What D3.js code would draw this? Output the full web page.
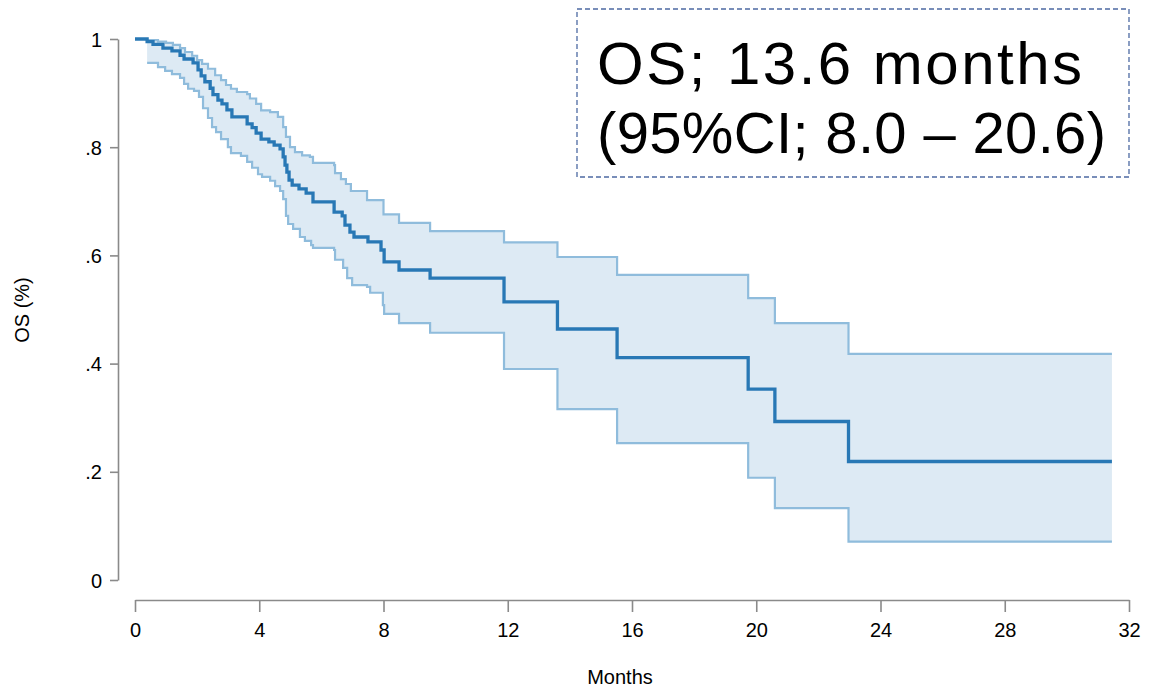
<!DOCTYPE html>
<html>
<head>
<meta charset="utf-8">
<script src="https://cdn.jsdelivr.net/npm/d3@7"></script>
<style>
  html, body { margin: 0; padding: 0; background: #fff; }
  svg { display: block; }
</style>
</head>
<body>
<svg id="chart" width="1153" height="693"></svg>
<script>
// ---- Data (months, survival proportion) ----
const survival = [
  [0, 1.000], [0.39, 0.995], [0.58, 0.990], [0.90, 0.983], [1.19, 0.978],
  [1.45, 0.970], [1.58, 0.963], [1.87, 0.956], [2.03, 0.943], [2.13, 0.932],
  [2.25, 0.921], [2.42, 0.909], [2.51, 0.897], [2.67, 0.887], [2.80, 0.880],
  [2.96, 0.869], [3.12, 0.856], [3.61, 0.843], [3.77, 0.836], [3.90, 0.826],
  [4.06, 0.815], [4.31, 0.810], [4.48, 0.804], [4.67, 0.797], [4.77, 0.782],
  [4.83, 0.767], [4.89, 0.754], [4.96, 0.739], [5.06, 0.730], [5.28, 0.723],
  [5.51, 0.715], [5.73, 0.699], [6.41, 0.680], [6.67, 0.673], [6.76, 0.656],
  [6.92, 0.643], [7.05, 0.634], [7.50, 0.625], [7.92, 0.610], [8.02, 0.588],
  [8.50, 0.573], [9.50, 0.558], [11.88, 0.514], [13.6, 0.464], [15.52, 0.411],
  [19.74, 0.353], [20.6, 0.293], [22.97, 0.219]
];
const upperCI = [
  [0.39, 0.998], [0.74, 0.995], [1.00, 0.993], [1.22, 0.989], [1.45, 0.983],
  [1.61, 0.976], [1.84, 0.969], [2.00, 0.961], [2.16, 0.954], [2.35, 0.945],
  [2.58, 0.933], [2.77, 0.924], [2.93, 0.915], [3.09, 0.908], [3.28, 0.902],
  [3.61, 0.898], [3.70, 0.890], [3.90, 0.880], [4.06, 0.868], [4.35, 0.865],
  [4.60, 0.856], [4.77, 0.837], [4.86, 0.819], [4.99, 0.800], [5.15, 0.791],
  [5.38, 0.785], [5.63, 0.782], [5.73, 0.771], [6.41, 0.767], [6.44, 0.752],
  [6.63, 0.741], [6.79, 0.732], [6.95, 0.719], [7.47, 0.702], [8.00, 0.676],
  [8.50, 0.660], [9.50, 0.645], [11.88, 0.624], [13.6, 0.597], [15.52, 0.564],
  [19.74, 0.521], [20.6, 0.475], [22.97, 0.418]
];
const lowerCI = [
  [0.39, 0.956], [0.74, 0.948], [0.97, 0.941], [1.19, 0.935], [1.45, 0.928],
  [1.58, 0.917], [1.71, 0.908], [1.90, 0.904], [2.06, 0.893], [2.19, 0.872],
  [2.35, 0.854], [2.48, 0.837], [2.61, 0.828], [2.77, 0.815], [2.99, 0.800],
  [3.09, 0.789], [3.41, 0.784], [3.61, 0.773], [3.77, 0.762], [3.96, 0.750],
  [4.09, 0.745], [4.35, 0.738], [4.51, 0.728], [4.67, 0.719], [4.77, 0.704],
  [4.86, 0.673], [4.93, 0.658], [5.09, 0.649], [5.31, 0.634], [5.47, 0.627],
  [5.67, 0.619], [5.73, 0.614], [6.41, 0.610], [6.44, 0.592], [6.70, 0.577],
  [6.83, 0.558], [6.99, 0.545], [7.47, 0.542], [7.57, 0.531], [7.98, 0.508],
  [8.02, 0.492], [8.50, 0.475], [9.50, 0.457], [11.88, 0.390], [13.6, 0.316],
  [15.52, 0.253], [19.74, 0.189], [20.6, 0.133], [22.97, 0.071]
];
const followUpEnd = 31.45;
const xTicks = [0, 4, 8, 12, 16, 20, 24, 28, 32];
const yTicks = [0, 0.2, 0.4, 0.6, 0.8, 1];
const yTickLabels = ["0", ".2", ".4", ".6", ".8", "1"];
const xTitle = "Months";
const yTitle = "OS (%)";
const annotationLines = ["OS; 13.6 months", "(95%CI; 8.0 \u2013 20.6)"];

// ---- Layout ----
const svg = d3.select("#chart");
const x = d3.scaleLinear().domain([0, 32]).range([135, 1129]);
const y = d3.scaleLinear().domain([0, 1]).range([580, 39]);
const axisColor = "#8a8a8a";
const mainColor = "#2878b5";
const ciColor = "#8fbcdc";
const fillColor = "#ddeaf4";
const axisFont = "'Liberation Sans', Arial, sans-serif";

// step helper
function stepValue(arr, t) {
  let v = arr[0][1];
  for (const [tt, s] of arr) { if (tt <= t) v = s; else break; }
  return v;
}
const bandTimes = Array.from(new Set(
  upperCI.map(d => d[0]).concat(lowerCI.map(d => d[0])).concat([followUpEnd])
)).sort((a, b) => a - b);
const band = bandTimes.map(t => ({ t, lo: stepValue(lowerCI, t), hi: stepValue(upperCI, t) }));

svg.append("path")
  .datum(band)
  .attr("fill", fillColor)
  .attr("d", d3.area().curve(d3.curveStepAfter)
    .x(d => x(d.t)).y0(d => y(d.lo)).y1(d => y(d.hi)));

const stepLine = d3.line().curve(d3.curveStepAfter).x(d => x(d[0])).y(d => y(d[1]));
const withEnd = arr => arr.concat([[followUpEnd, arr[arr.length - 1][1]]]);

svg.append("path").datum(withEnd(upperCI))
  .attr("fill", "none").attr("stroke", ciColor).attr("stroke-width", 2.2).attr("d", stepLine);
svg.append("path").datum(withEnd(lowerCI))
  .attr("fill", "none").attr("stroke", ciColor).attr("stroke-width", 2.2).attr("d", stepLine);
svg.append("path").datum(withEnd(survival))
  .attr("fill", "none").attr("stroke", mainColor).attr("stroke-width", 3.3).attr("d", stepLine);

// ---- Axes ----
const yAxis = svg.append("g").attr("transform", "translate(118,0)")
  .call(d3.axisLeft(y).tickValues(yTicks).tickSize(8).tickSizeOuter(0)
    .tickFormat((d, i) => yTickLabels[i]));
const xAxis = svg.append("g").attr("transform", "translate(0,600)")
  .call(d3.axisBottom(x).tickValues(xTicks).tickSize(12).tickSizeOuter(0));

[yAxis, xAxis].forEach(g => {
  g.attr("font-family", axisFont).attr("font-size", 20);
  g.select(".domain").attr("stroke", axisColor).attr("stroke-width", 1.6);
  g.selectAll(".tick line").attr("stroke", axisColor).attr("stroke-width", 1.6);
  g.selectAll(".tick text").attr("fill", "#000");
});
yAxis.selectAll(".tick text").attr("x", -16).attr("dy", "0.35em");
xAxis.selectAll(".tick text").attr("y", 23);

svg.append("text")
  .attr("x", 620).attr("y", 684)
  .attr("text-anchor", "middle")
  .attr("font-family", axisFont).attr("font-size", 20)
  .text(xTitle);
svg.append("text")
  .attr("transform", "translate(29,310) rotate(-90)")
  .attr("text-anchor", "middle")
  .attr("font-family", axisFont).attr("font-size", 20)
  .text(yTitle);

// ---- Annotation box ----
svg.append("rect")
  .attr("x", 577).attr("y", 9).attr("width", 552).attr("height", 168)
  .attr("fill", "#fff").attr("stroke", "#4d6aa3").attr("stroke-width", 1.3)
  .attr("stroke-dasharray", "5,3");
const annotWidths = [485, 509];
const annotSizes = [60, 58];
svg.selectAll(".annot").data(annotationLines).enter().append("text")
  .attr("class", "annot")
  .attr("x", 597).attr("y", (d, i) => 84 + i * 69)
  .attr("font-family", axisFont).attr("font-size", (d, i) => annotSizes[i])
  .attr("textLength", (d, i) => annotWidths[i])
  .attr("lengthAdjust", "spacing")
  .attr("fill", "#000")
  .text(d => d);
</script>
</body>
</html>
